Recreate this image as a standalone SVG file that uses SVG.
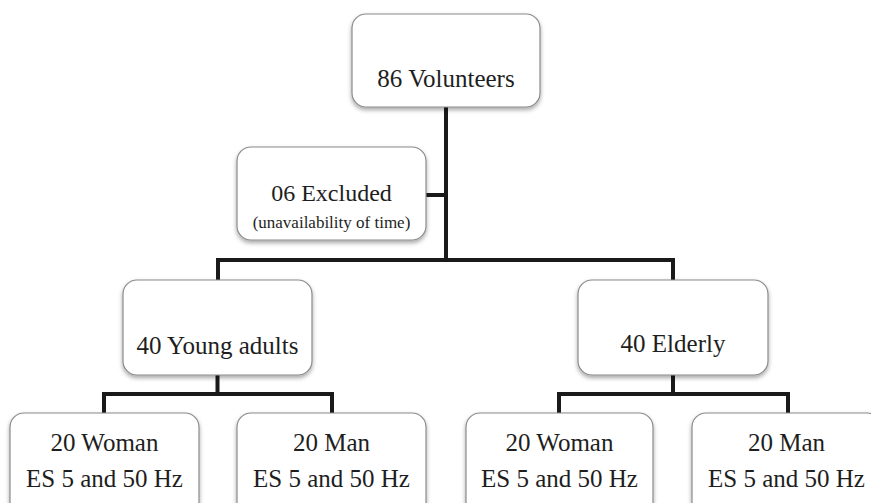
<svg xmlns="http://www.w3.org/2000/svg" width="871" height="503" viewBox="0 0 871 503">
<defs>
<filter id="sh" x="-10%" y="-10%" width="120%" height="130%">
<feDropShadow dx="0" dy="2.5" stdDeviation="2" flood-color="#000" flood-opacity="0.35"/>
</filter>
<style>
.box{fill:#fff;stroke:#8a8a8a;stroke-width:1.2;filter:url(#sh)}
.t{font-family:"Liberation Serif","Times New Roman",serif;font-size:25px;fill:#1e1e1e;text-anchor:middle}
.s{font-size:17px}
.c{fill:none;stroke:#1a1a1a;stroke-width:4;stroke-linejoin:miter;stroke-linecap:butt}
</style>
</defs>
<rect width="871" height="503" fill="#fff"/>
<g id="connectors">
<path class="c" d="M446 107 V260 M424 195 H446 M218 280 V260 H673 V280 M217.5 375 V394 M104 413 V394 H332 V413 M673 375 V394 M559 413 V394 H788 V413"/>
</g>
<g id="volunteers">
<rect class="box" x="352" y="14" width="188" height="93" rx="14"/>
<text class="t" x="446" y="87">86 Volunteers</text>
</g>
<g id="excluded">
<rect class="box" x="237" y="147" width="189" height="93" rx="14"/>
<text class="t" x="331.5" y="201" style="font-size:24px">06 Excluded</text>
<text class="t s" x="331.5" y="228">(unavailability of time)</text>
</g>
<g id="young">
<rect class="box" x="123" y="280" width="189" height="95" rx="14"/>
<text class="t" x="217.5" y="354">40 Young adults</text>
</g>
<g id="elderly">
<rect class="box" x="578" y="280" width="190" height="95" rx="14"/>
<text class="t" x="673" y="352">40 Elderly</text>
</g>
<g id="young-woman">
<rect class="box" x="10" y="413" width="189" height="105" rx="14"/>
<text class="t" x="104.5" y="451">20 Woman</text>
<text class="t" x="104.5" y="487">ES 5 and 50 Hz</text>
</g>
<g id="young-man">
<rect class="box" x="237" y="413" width="189" height="105" rx="14"/>
<text class="t" x="331.5" y="451">20 Man</text>
<text class="t" x="331.5" y="487">ES 5 and 50 Hz</text>
</g>
<g id="elderly-woman">
<rect class="box" x="466" y="413" width="187" height="105" rx="14"/>
<text class="t" x="559.5" y="451">20 Woman</text>
<text class="t" x="559.5" y="487">ES 5 and 50 Hz</text>
</g>
<g id="elderly-man">
<rect class="box" x="692" y="413" width="189" height="105" rx="14"/>
<text class="t" x="786.5" y="451">20 Man</text>
<text class="t" x="786.5" y="487">ES 5 and 50 Hz</text>
</g>
</svg>
